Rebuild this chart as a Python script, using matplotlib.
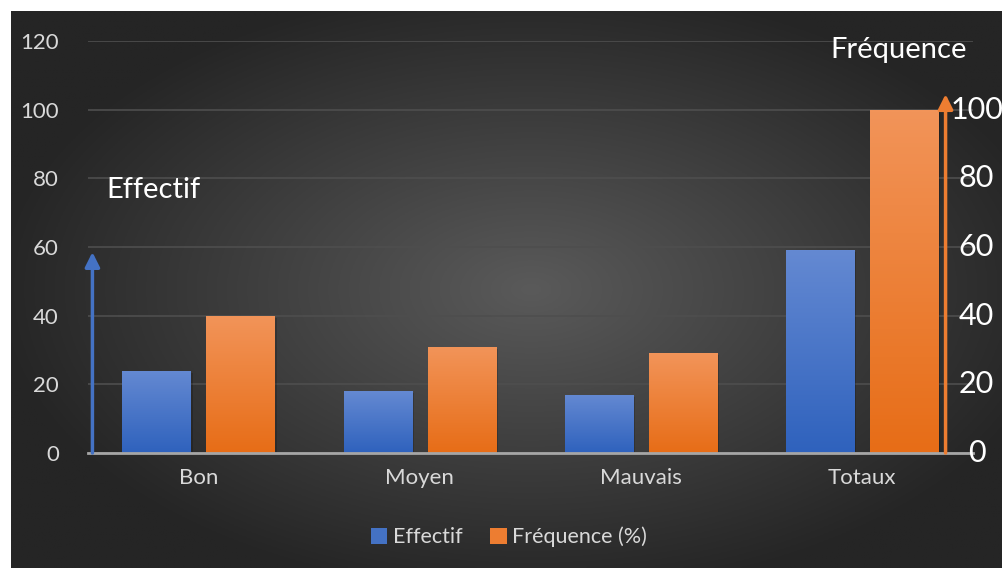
import numpy as np
import matplotlib
matplotlib.use("Agg")
import matplotlib.pyplot as plt
from matplotlib.patches import Patch

plt.rcParams['font.family'] = ['Lato', 'DejaVu Sans']

# données
categories = ['Bon', 'Moyen', 'Mauvais', 'Totaux']
effectif = [24, 18, 17, 59]
frequence = [40, 31, 29, 100]
yticks_gauche = [0, 20, 40, 60, 80, 100, 120]
yticks_droite = [0, 20, 40, 60, 80, 100]

bleu_haut, bleu_bas = '#6489d2', '#2f62bd'
orange_haut, orange_bas = '#f29459', '#e76d17'
gris_txt = '#d9d9d9'

W, H = 1002, 568
fig = plt.figure(figsize=(W / 100, H / 100), dpi=100, facecolor='white')

# fond sombre en dégradé radial
bg = fig.add_axes([11 / W, 0, (W - 11) / W, (H - 11) / H], zorder=0)
gx, gy = np.meshgrid(np.linspace(-1.05, 0.95, 400), np.linspace(-1, 1, 240))
r = np.clip(np.sqrt((gx * 0.92) ** 2 + (gy * 0.9) ** 2), 0, 1)
c0, c1 = np.array([0x5a, 0x5a, 0x5a]) / 255, np.array([0x25, 0x25, 0x25]) / 255
img = c0[None, None, :] * (1 - r[..., None]) + c1[None, None, :] * r[..., None]
bg.imshow(img, aspect='auto', extent=[0, 1, 0, 1])
bg.axis('off')

ax = fig.add_axes([88 / W, (H - 453) / H, (973 - 88) / W, (453 - 41) / H], zorder=1)
ax.set_facecolor('none')

x = np.arange(len(categories))
larg = 0.31
dec = 0.19


def barres_degrade(xs, vals, haut, bas):
    bars = ax.bar(xs, vals, width=larg, color=bas, zorder=3)
    grad = np.linspace(0, 1, 100)[:, None]
    cmap = matplotlib.colors.LinearSegmentedColormap.from_list('g', [bas, haut])
    for b in bars:
        x0, y0 = b.get_x(), b.get_y()
        w, h = b.get_width(), b.get_height()
        # ombre légère
        ax.bar(x0 + w / 2 + 0.008, h, width=w, bottom=-0.6, color='black',
               alpha=0.18, zorder=2)
        im = ax.imshow(grad, cmap=cmap, aspect='auto', origin='lower',
                       extent=[x0, x0 + w, y0, y0 + h], zorder=3.5)
        im.set_clip_path(b)
    return bars


barres_degrade(x - dec, effectif, bleu_haut, bleu_bas)
barres_degrade(x + dec, frequence, orange_haut, orange_bas)

ax.set_xlim(-0.5, len(categories) - 0.5)
ax.set_ylim(0, 120)
ax.set_yticks(yticks_gauche)
ax.set_xticks(x)
ax.set_xticklabels(categories)
ax.tick_params(axis='y', length=0, pad=21, labelsize=16, labelcolor=gris_txt)
ax.tick_params(axis='x', length=0, pad=11, labelsize=16, labelcolor=gris_txt)
ax.grid(axis='y', color='#4e4e4e', linewidth=1.2, zorder=0)
for s in ['top', 'right', 'left']:
    ax.spines[s].set_visible(False)
ax.spines['bottom'].set_color('#a6a6a6')
ax.spines['bottom'].set_linewidth(2)
ax.spines['bottom'].set_zorder(4)

# axe de droite dessiné à la main (fréquence)
for v in yticks_droite:
    ax.text(3.516, v, str(v), ha='center', va='center', fontsize=22,
            color='white', zorder=5, clip_on=False)

# flèches
ax.annotate('', xy=(-0.48, 58.5), xytext=(-0.48, 0),
            arrowprops=dict(arrowstyle='-|>', color='#4472c4', lw=2.5,
                            mutation_scale=22, shrinkA=0, shrinkB=0), zorder=5)
ax.annotate('', xy=(3.376, 104.5), xytext=(3.376, 0),
            arrowprops=dict(arrowstyle='-|>', color='#ed7d31', lw=2.5,
                            mutation_scale=22, shrinkA=0, shrinkB=0), zorder=5)

ax.text(-0.415, 76.5, 'Effectif', fontsize=21, color='white', va='center')
ax.text(2.855, 117.5, 'Fréquence', fontsize=21, color='white', va='center')

handles = [Patch(facecolor='#4472c4'), Patch(facecolor='#ed7d31')]
leg = fig.legend(handles, ['Effectif', 'Fréquence (%)'], loc='center',
                 bbox_to_anchor=(509 / W, (H - 537) / H), ncol=2, frameon=False,
                 fontsize=15.5, handlelength=0.75, handleheight=0.75,
                 handletextpad=0.25, columnspacing=1.3)
for t in leg.get_texts():
    t.set_color(gris_txt)

fig.savefig('out.png', dpi=100, facecolor='white')
